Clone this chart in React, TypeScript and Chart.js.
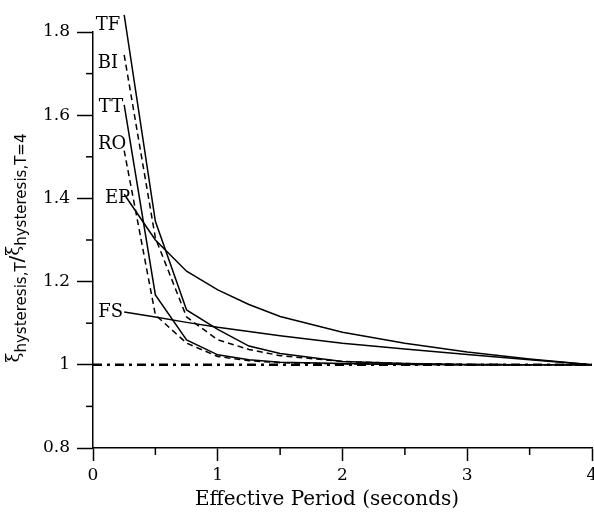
import React, { useEffect, useRef } from 'react';
import { Chart, registerables } from 'chart.js';

Chart.register(...registerables);

// ---- data ----
const periods = [0.25, 0.5, 0.75, 1, 1.25, 1.5, 2, 2.5, 3, 3.5, 4];
const tfValues = [1.841, 1.345, 1.132, 1.085, 1.045, 1.027, 1.008, 1.003, 1.001, 1.0, 1.0];
const biValues = [1.745, 1.305, 1.115, 1.06, 1.037, 1.022, 1.008, 1.003, 1.001, 1.0, 1.0];
const ttValues = [1.625, 1.168, 1.06, 1.024, 1.012, 1.006, 1.003, 1.001, 1.0, 1.0, 1.0];
const roValues = [1.515, 1.12, 1.052, 1.02, 1.01, 1.005, 1.002, 1.001, 1.0, 1.0, 1.0];
const epValues = [1.41, 1.3, 1.225, 1.18, 1.145, 1.116, 1.078, 1.052, 1.031, 1.014, 1.0];
const fsValues = [1.127, 1.115, 1.102, 1.09, 1.08, 1.07, 1.052, 1.038, 1.025, 1.012, 1.0];
const referencePeriods = [0, 4];
const referenceValues = [1, 1];

const seriesNames = ['TF', 'BI', 'TT', 'RO', 'EP', 'FS'];
const seriesValues = [tfValues, biValues, ttValues, roValues, epValues, fsValues];
const seriesDashed = [false, true, false, true, false, false];

const xTitle = 'Effective Period (seconds)';
const xMin = 0, xMax = 4, xStep = 0.5;
const yMin = 0.8, yMax = 1.8, yStep = 0.1;

// label offsets (styling only)
const labelDx = [-4, -6, -1, 2, 6, -1];
const labelDy = [10, 8, 3, -6, 4, 0];

const serif = "'DejaVu Serif', serif";

const minorTicksPlugin = {
  id: 'minorTicks',
  afterDraw(chart: any) {
    const { ctx, chartArea, scales } = chart;
    ctx.save();
    ctx.strokeStyle = '#000';
    ctx.lineWidth = 1.5;
    scales.x.ticks.forEach((t: any) => {
      if (Math.abs(t.value - Math.round(t.value)) > 1e-6) {
        const px = scales.x.getPixelForValue(t.value);
        ctx.beginPath();
        ctx.moveTo(px, chartArea.bottom);
        ctx.lineTo(px, chartArea.bottom + 7);
        ctx.stroke();
      }
    });
    scales.y.ticks.forEach((t: any) => {
      const k = Math.round(t.value * 10);
      if (k % 2 !== 0) {
        const py = scales.y.getPixelForValue(t.value);
        ctx.beginPath();
        ctx.moveTo(chartArea.left - 7, py);
        ctx.lineTo(chartArea.left, py);
        ctx.stroke();
      }
    });
    ctx.restore();
  },
};

const seriesLabelsPlugin = {
  id: 'seriesLabels',
  afterDatasetsDraw(chart: any) {
    const { ctx } = chart;
    ctx.save();
    ctx.fillStyle = '#000';
    ctx.font = `18px ${serif}`;
    ctx.textAlign = 'right';
    ctx.textBaseline = 'middle';
    seriesNames.forEach((name, i) => {
      const meta = chart.getDatasetMeta(i);
      const p = meta.data[0];
      if (!p) return;
      ctx.fillText(name, p.x + labelDx[i], p.y + labelDy[i]);
    });
    ctx.restore();
  },
};

const axisTitlesPlugin = {
  id: 'axisTitles',
  afterDraw(chart: any) {
    const { ctx } = chart;
    // x title
    ctx.save();
    ctx.fillStyle = '#000';
    ctx.font = `20px ${serif}`;
    ctx.textAlign = 'center';
    ctx.textBaseline = 'middle';
    ctx.fillText(xTitle, 327, 500);
    ctx.restore();

    // y title with subscripts
    const pieces = [
      { t: 'ξ', f: "18px 'DejaVu Serif', serif", v: -1 },
      { t: 'hysteresis,T', f: "15px 'DejaVu Sans', sans-serif", v: 7 },
      { t: '/', f: "20px 'DejaVu Sans', sans-serif", v: 3 },
      { t: 'ξ', f: "18px 'DejaVu Serif', serif", v: -1 },
      { t: 'hysteresis,T=4', f: "15px 'DejaVu Sans', sans-serif", v: 7 },
    ];
    ctx.save();
    let total = 0;
    const widths = pieces.map((p) => {
      ctx.font = p.f;
      const w = ctx.measureText(p.t).width;
      total += w;
      return w;
    });
    ctx.translate(15, 248);
    ctx.rotate(-Math.PI / 2);
    ctx.fillStyle = '#000';
    ctx.textBaseline = 'middle';
    ctx.textAlign = 'left';
    let u = -total / 2;
    pieces.forEach((p, i) => {
      ctx.font = p.f;
      ctx.fillText(p.t, u, p.v);
      u += widths[i];
    });
    ctx.restore();
  },
};

export default function App() {
  const canvasRef = useRef<HTMLCanvasElement | null>(null);

  useEffect(() => {
    if (!canvasRef.current) return;
    const datasets: any[] = seriesNames.map((name, i) => ({
      label: name,
      data: periods.map((t, j) => ({ x: t, y: seriesValues[i][j] })),
      borderColor: '#000',
      borderWidth: 1.5,
      borderDash: seriesDashed[i] ? [6, 4] : [],
      pointRadius: 0,
      tension: 0,
      fill: false,
      clip: false,
    }));
    datasets.push({
      label: 'reference',
      data: referencePeriods.map((t, j) => ({ x: t, y: referenceValues[j] })),
      borderColor: '#000',
      borderWidth: 2.4,
      borderDash: [9, 5, 3, 5],
      pointRadius: 0,
      fill: false,
    });

    const tickFont = { family: serif, size: 17 };

    const chart = new Chart(canvasRef.current, {
      type: 'line',
      data: { datasets },
      options: {
        animation: false,
        responsive: false,
        layout: { padding: { top: 32, right: 2, left: 0, bottom: 0 }, autoPadding: false } as any,
        plugins: { legend: { display: false }, tooltip: { enabled: false } },
        scales: {
          x: {
            type: 'linear',
            min: xMin,
            max: xMax,
            ticks: {
              stepSize: xStep,
              autoSkip: false,
              maxRotation: 0,
              color: '#000',
              font: tickFont,
              padding: 4,
              callback: (v: any) => (Math.abs(v - Math.round(v)) < 1e-6 ? String(Math.round(v)) : ''),
            },
            grid: {
              drawOnChartArea: false,
              drawTicks: true,
              tickLength: 13,
              tickWidth: 1.5,
              tickColor: (c: any) =>
                c.tick && Math.abs(c.tick.value - Math.round(c.tick.value)) < 1e-6 ? '#000' : 'rgba(0,0,0,0)',
            },
            border: { color: '#000', width: 1.5 },
            afterFit: (s: any) => {
              s.height = 71;
              s.paddingLeft = 0;
              s.paddingRight = 0;
            },
          } as any,
          y: {
            type: 'linear',
            min: yMin,
            max: yMax,
            ticks: {
              stepSize: yStep,
              autoSkip: false,
              color: '#000',
              font: tickFont,
              padding: 7,
              callback: (v: any) => {
                const k = Math.round(v * 10);
                if (k % 2 !== 0) return '';
                return k === 10 ? '1' : (k / 10).toFixed(1);
              },
            },
            grid: {
              drawOnChartArea: false,
              drawTicks: true,
              tickLength: 16,
              tickWidth: 1.5,
              tickColor: (c: any) =>
                c.tick && Math.round(c.tick.value * 10) % 2 === 0 ? '#000' : 'rgba(0,0,0,0)',
            },
            border: { color: '#000', width: 1.5 },
            afterFit: (s: any) => {
              s.width = 93;
              s.paddingTop = 0;
              s.paddingBottom = 0;
            },
          } as any,
        },
      },
      plugins: [minorTicksPlugin, seriesLabelsPlugin, axisTitlesPlugin],
    });
    return () => chart.destroy();
  }, []);

  return (
    <div style={{ position: 'absolute', left: 0, top: 0, width: 594, height: 519, background: '#fff' }}>
      <canvas ref={canvasRef} width={594} height={519} style={{ display: 'block' }} />
    </div>
  );
}
